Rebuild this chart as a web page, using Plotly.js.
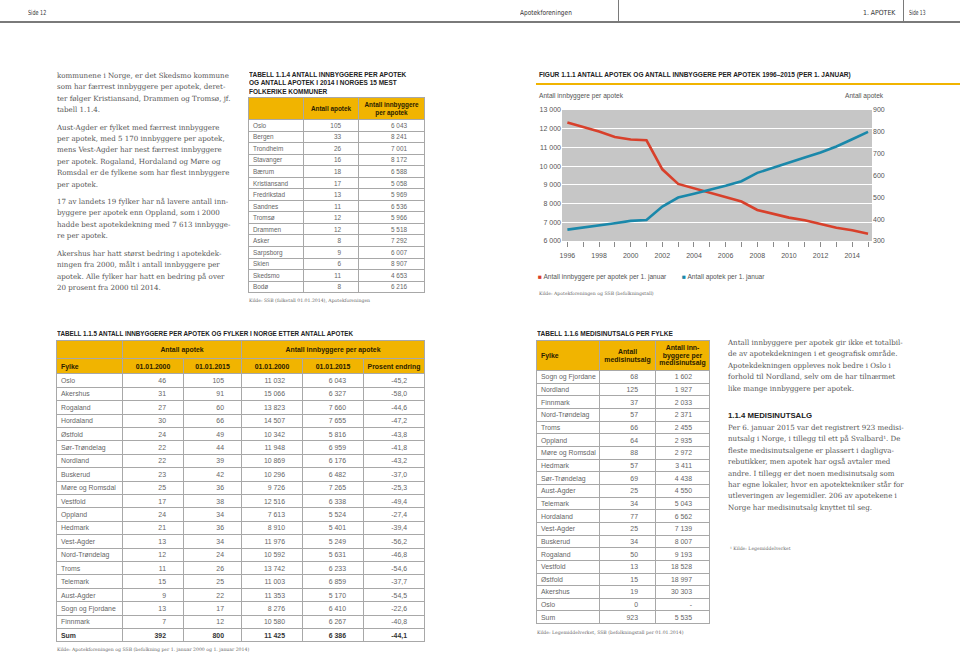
<!DOCTYPE html>
<html><head><meta charset="utf-8">
<script src="https://cdn.plot.ly/plotly-3.0.1.min.js"></script>
<style>
html,body{margin:0;padding:0;background:#fff;}
#page{position:relative;width:960px;height:654px;overflow:hidden;font-family:"Liberation Sans",Arial,sans-serif;}
.abs{position:absolute;}
.hdr{position:absolute;top:9px;font-family:"Liberation Sans Narrow","Arial Narrow","DejaVu Sans Condensed",sans-serif;font-size:7px;color:#333;line-height:9px;white-space:nowrap;transform-origin:0 50%;}
.body{position:absolute;font-family:"DejaVu Serif",serif;font-size:7.1px;line-height:11.4px;color:#555;white-space:nowrap;}
.body p{margin:0 0 6px 0;}
.ttl{position:absolute;font-family:"Liberation Sans",Arial,sans-serif;font-weight:bold;font-size:7.4px;line-height:8.4px;color:#222;white-space:nowrap;transform-origin:0 0;}
.src{position:absolute;font-family:"DejaVu Serif",serif;font-size:4.6px;color:#666;white-space:nowrap;}
table{position:absolute;border-collapse:collapse;table-layout:fixed;font-family:"Liberation Sans",Arial,sans-serif;color:#666;}
td,th{border:1px solid #a8a8a8;padding:0;overflow:hidden;white-space:nowrap;}
th{background:#f1b400;color:#2a2000;font-weight:bold;text-align:center;}
td.n{text-align:right;padding-right:17px;}
td.l{text-align:left;padding-left:4px;}
th.l{text-align:left;padding-left:4px;}
tr.sum td{font-weight:bold;color:#333;}
#chart{position:absolute;left:530px;top:60px;width:430px;height:250px;}
</style></head>
<body><div id="page">
<!-- page header -->
<div class="abs" style="left:0;top:21px;width:960px;height:1.5px;background:#7a7a7a;"></div>
<div class="abs" style="left:618px;top:0;width:1px;height:21px;background:#7a7a7a;"></div>
<div class="abs" style="left:903px;top:0;width:1px;height:21px;background:#7a7a7a;"></div>
<div class="hdr" data-w="18.5" style="left:27.5px;">Side 12</div>
<div class="hdr" data-w="51.7" style="left:519.5px;">Apotekforeningen</div>
<div class="hdr" data-w="32.3" style="left:862.7px;">1. APOTEK</div>
<div class="hdr" data-w="16.7" style="left:909px;">Side 13</div>

<!-- left text column -->
<div class="body" style="left:57px;top:70px;">
<p>kommunene i Norge, er det Skedsmo kommune<br>som har færrest innbyggere per apotek, deret-<br>ter følger Kristiansand, Drammen og Tromsø, jf.<br>tabell 1.1.4.</p>
<p>Aust-Agder er fylket med færrest innbyggere<br>per apotek, med 5 170 innbyggere per apotek,<br>mens Vest-Agder har nest færrest innbyggere<br>per apotek. Rogaland, Hordaland og Møre og<br>Romsdal er de fylkene som har flest innbyggere<br>per apotek.</p>
<p>17 av landets 19 fylker har nå lavere antall inn-<br>byggere per apotek enn Oppland, som i 2000<br>hadde best apotekdekning med 7 613 innbygge-<br>re per apotek.</p>
<p>Akershus har hatt størst bedring i apotekdek-<br>ningen fra 2000, målt i antall innbyggere per<br>apotek. Alle fylker har hatt en bedring på over<br>20 prosent fra 2000 til 2014.</p>
</div>

<!-- table 1.1.4 -->
<div class="ttl" data-w="157" style="left:249px;top:71px;">TABELL 1.1.4 ANTALL INNBYGGERE PER APOTEK<br>OG ANTALL APOTEK I 2014 I NORGES 15 MEST<br>FOLKERIKE KOMMUNER</div>
<table id="t114" style="left:248px;top:97px;width:176px;font-size:6.4px;"></table>
<div class="src" style="left:249px;top:298px;">Kilde: SSB (folketall 01.01.2014), Apotekforeningen</div>

<!-- table 1.1.5 -->
<div class="ttl" data-w="296" style="left:57px;top:330px;">TABELL 1.1.5 ANTALL INNBYGGERE PER APOTEK OG FYLKER I NORGE ETTER ANTALL APOTEK</div>
<table id="t115" style="left:56px;top:340px;width:368px;font-size:6.9px;"></table>
<div class="src" style="left:57px;top:647px;">Kilde: Apotekforeningen og SSB (befolkning per 1. januar 2000 og 1. januar 2014)</div>

<!-- table 1.1.6 -->
<div class="ttl" data-w="136" style="left:537px;top:330px;">TABELL 1.1.6 MEDISINUTSALG PER FYLKE</div>
<table id="t116" style="left:536px;top:340px;width:173px;font-size:6.9px;"></table>
<div class="src" style="left:537px;top:630px;">Kilde: Legemiddelverket, SSB (befolkningstall per 01.01.2014)</div>

<!-- right text column -->
<div class="body" style="left:728px;top:337px;">
<p>Antall innbyggere per apotek gir ikke et totalbil-<br>de av apotekdekningen i et geografisk område.<br>Apotekdekningen oppleves nok bedre i Oslo i<br>forhold til Nordland, selv om de har tilnærmet<br>like mange innbyggere per apotek.</p>
</div>
<div class="abs" style="left:728px;top:411px;font-family:'Liberation Sans',Arial,sans-serif;font-weight:bold;font-size:7.8px;color:#222;white-space:nowrap;">1.1.4 MEDISINUTSALG</div>
<div class="body" style="left:728px;top:422px;">
<p>Per 6. januar 2015 var det registrert 923 medisi-<br>nutsalg i Norge, i tillegg til ett på Svalbard¹. De<br>fleste medisinutsalgene er plassert i dagligva-<br>rebutikker, men apotek har også avtaler med<br>andre. I tillegg er det noen medisinutsalg som<br>har egne lokaler, hvor en apotektekniker står for<br>utleveringen av legemidler. 206 av apotekene i<br>Norge har medisinutsalg knyttet til seg.</p>
</div>
<div class="src" style="left:730px;top:546px;">¹ Kilde: Legemiddelverket</div>

<div id="chart"></div>
</div>
<script>
// ---------- Figure 1.1.1 data ----------
const years = [1996,1997,1998,1999,2000,2001,2002,2003,2004,2005,2006,2007,2008,2009,2010,2011,2012,2013,2014,2015];
const innbyggerePerApotek = [12330,12100,11850,11560,11425,11380,9830,9050,8820,8590,8340,8110,7660,7460,7250,7110,6910,6710,6570,6386];
const antallApotek = [352,361,370,381,392,396,458,499,516,533,553,574,612,635,660,682,705,733,766,800];
const leftTickVals = [6000,7000,8000,9000,10000,11000,12000,13000];
const leftTickLabels = ['6 000','7 000','8 000','9 000','10 000','11 000','12 000','13 000'];
const rightTickVals = [300,400,500,600,700,800,900];
const xLabelYears = [1996,1998,2000,2002,2004,2006,2008,2010,2012,2014];

// ---------- Table 1.1.4 data ----------
const kommuner = ['Oslo','Bergen','Trondheim','Stavanger','Bærum','Kristiansand','Fredrikstad','Sandnes','Tromsø','Drammen','Asker','Sarpsborg','Skien','Skedsmo','Bodø'];
const kommuneApotek = ['105','33','26','16','18','17','13','11','12','12','8','9','6','11','8'];
const kommuneInnb = ['6 043','8 241','7 001','8 172','6 588','5 058','5 969','6 536','5 966','5 518','7 292','6 007','8 907','4 653','6 216'];

// ---------- Table 1.1.5 data ----------
const fylker = ['Oslo','Akershus','Rogaland','Hordaland','Østfold','Sør-Trøndelag','Nordland','Buskerud','Møre og Romsdal','Vestfold','Oppland','Hedmark','Vest-Agder','Nord-Trøndelag','Troms','Telemark','Aust-Agder','Sogn og Fjordane','Finnmark','Sum'];
const apotek2000 = ['46','31','27','30','24','22','22','23','25','17','24','21','13','12','11','15','9','13','7','392'];
const apotek2015 = ['105','91','60','66','49','44','39','42','36','38','34','36','34','24','26','25','22','17','12','800'];
const innb2000 = ['11 032','15 066','13 823','14 507','10 342','11 948','10 869','10 296','9 726','12 516','7 613','8 910','11 976','10 592','13 742','11 003','11 353','8 276','10 580','11 425'];
const innb2015 = ['6 043','6 327','7 660','7 655','5 816','6 959','6 176','6 482','7 265','6 338','5 524','5 401','5 249','5 631','6 233','6 859','5 170','6 410','6 267','6 386'];
const prosentEndring = ['-45,2','-58,0','-44,6','-47,2','-43,8','-41,8','-43,2','-37,0','-25,3','-49,4','-27,4','-39,4','-56,2','-46,8','-54,6','-37,7','-54,5','-22,6','-40,8','-44,1'];

// ---------- Table 1.1.6 data ----------
const mFylker = ['Sogn og Fjordane','Nordland','Finnmark','Nord-Trøndelag','Troms','Oppland','Møre og Romsdal','Hedmark','Sør-Trøndelag','Aust-Agder','Telemark','Hordaland','Vest-Agder','Buskerud','Rogaland','Vestfold','Østfold','Akershus','Oslo','Sum'];
const medisinutsalg = ['68','125','37','57','66','64','88','57','69','25','34','77','25','34','50','13','15','19','0','923'];
const innbPerUtsalg = ['1 602','1 927','2 033','2 371','2 455','2 935','2 972','3 411','4 438','4 550','5 043','6 562','7 139','8 007','9 193','18 528','18 997','30 303','-','5 535'];

// ---------- build tables ----------
function colgroup(ws){return '<colgroup>'+ws.map(w=>'<col style="width:'+w+'px">').join('')+'</colgroup>';}
function rows(cols, h, sumLast){
  let s='';
  for(let i=0;i<cols[0].length;i++){
    const cls = (sumLast && i===cols[0].length-1)?' class="sum"':'';
    s+='<tr'+cls+' style="height:'+h+'px">';
    cols.forEach((c,j)=>{ s+='<td class="'+(j===0?'l':'n')+'">'+c[i]+'</td>'; });
    s+='</tr>';
  }
  return s;
}
document.getElementById('t114').innerHTML = colgroup([55,55,66]) +
  '<tr style="height:22px"><th></th><th>Antall apotek</th><th style="line-height:8px">Antall innbyggere<br>per apotek</th></tr>' +
  rows([kommuner,kommuneApotek,kommuneInnb],11.55,false);
document.getElementById('t115').innerHTML = colgroup([66,61,58,61,61,61]) +
  '<tr style="height:18.3px"><th></th><th colspan="2">Antall apotek</th><th colspan="3">Antall innbyggere per apotek</th></tr>' +
  '<tr style="height:15px"><th class="l">Fylke</th><th>01.01.2000</th><th>01.01.2015</th><th>01.01.2000</th><th>01.01.2015</th><th>Prosent endring</th></tr>' +
  rows([fylker,apotek2000,apotek2015,innb2000,innb2015,prosentEndring],13.42,true);
document.getElementById('t116').innerHTML = colgroup([63,56,54]) +
  '<tr style="height:30px"><th class="l">Fylke</th><th style="line-height:7.6px">Antall<br>medisinutsalg</th><th style="line-height:7.6px">Antall inn-<br>byggere per<br>medisinutsalg</th></tr>' +
  rows([mFylker,medisinutsalg,innbPerUtsalg],12.67,false);

// fit condensed titles to their measured widths in the reference
document.querySelectorAll('[data-w]').forEach(el=>{
  const target = parseFloat(el.getAttribute('data-w'));
  const w = el.scrollWidth;
  if (w>0) el.style.transform = 'scaleX('+(target/w).toFixed(4)+')';
});

// ---------- chart ----------
const RED='#d8402b', BLUE='#1a88aa';
const traces = [
  {x:years, y:innbyggerePerApotek, type:'scatter', mode:'lines', line:{color:RED,width:2.6}, yaxis:'y', name:'Antall innbyggere per apotek per 1. januar', hoverinfo:'skip'},
  {x:years, y:antallApotek, type:'scatter', mode:'lines', line:{color:BLUE,width:2.6}, yaxis:'y2', name:'Antall apotek per 1. januar', hoverinfo:'skip'}
];
const figTitle = 'FIGUR 1.1.1 ANTALL APOTEK OG ANTALL INNBYGGERE PER APOTEK 1996–2015 (PER 1. JANUAR)';
const titleFamily = 'Liberation Sans, Arial, sans-serif';
let titleSize = 7.4;
(function(){
  const c = document.createElement('canvas').getContext('2d');
  c.font = 'bold 7.4px "Liberation Sans", Arial, sans-serif';
  const w = c.measureText(figTitle).width;
  if (w>0) titleSize = 7.4*313/w;
})();
const tickFont = {family:'Liberation Sans, Arial, sans-serif', size:7, color:'#555'};
const layout = {
  width:430, height:250,
  margin:{l:32, r:88, t:50, b:69, pad:0},
  paper_bgcolor:'rgba(0,0,0,0)', plot_bgcolor:'#c6c6c6',
  showlegend:false,
  font:{family:'Liberation Sans, Arial, sans-serif', size:7, color:'#555'},
  xaxis:{range:[1995.66,2015.25], tickvals:xLabelYears, ticktext:xLabelYears.map(String), ticks:'outside', ticklen:5, tickcolor:'#8a8a8a', tickwidth:1,
         ticklabelstandoff:3,
         minor:{dtick:1, tick0:1996, ticks:'outside', ticklen:5, tickcolor:'#8a8a8a', tickwidth:1, showgrid:false},
         showgrid:false, zeroline:false, showline:false, tickfont:tickFont, automargin:false, fixedrange:true},
  yaxis:{range:[6000,13000], tickvals:leftTickVals, ticktext:leftTickLabels, showgrid:true, gridcolor:'#ffffff', gridwidth:1,
         zeroline:false, showline:false, ticks:'', tickfont:tickFont, automargin:false, fixedrange:true},
  yaxis2:{range:[300,900], overlaying:'y', side:'right', tickvals:rightTickVals, ticktext:rightTickVals.map(String), showgrid:false,
          zeroline:false, showline:false, ticks:'', tickfont:tickFont, automargin:false, fixedrange:true},
  shapes:[
    {type:'line', xref:'paper', yref:'paper', x0:-0.0839, x1:1.29, y0:1.198, y1:1.198, line:{color:'#f1b400', width:2}}
  ],
  annotations:[
    {xref:'paper', yref:'paper', x:-0.081, y:1.267, xanchor:'left', yanchor:'middle', showarrow:false,
     text:'<b>'+figTitle+'</b>', font:{family:titleFamily, size:titleSize, color:'#222'}},
    {xref:'paper', yref:'paper', x:-0.081, y:1.107, xanchor:'left', yanchor:'middle', showarrow:false,
     text:'Antall innbyggere per apotek', font:{size:6.6, color:'#555'}},
    {xref:'paper', yref:'paper', x:1.045, y:1.107, xanchor:'right', yanchor:'middle', showarrow:false,
     text:'Antall apotek', font:{size:6.6, color:'#555'}},
    {xref:'paper', yref:'paper', x:-0.084, y:-0.275, xanchor:'left', yanchor:'middle', showarrow:false,
     text:'<span style="color:'+RED+'">■</span> '+traces[0].name, font:{size:6.6, color:'#555'}},
    {xref:'paper', yref:'paper', x:0.381, y:-0.275, xanchor:'left', yanchor:'middle', showarrow:false,
     text:'<span style="color:'+BLUE+'">■</span> '+traces[1].name, font:{size:6.6, color:'#555'}},
    {xref:'paper', yref:'paper', x:-0.081, y:-0.405, xanchor:'left', yanchor:'middle', showarrow:false,
     text:'Kilde: Apotekforeningen og SSB (befolkningstall)', font:{family:'DejaVu Serif, serif', size:4.6, color:'#666'}}
  ]
};
Plotly.newPlot('chart', traces, layout, {staticPlot:true, displayModeBar:false});
</script>
</body></html>
